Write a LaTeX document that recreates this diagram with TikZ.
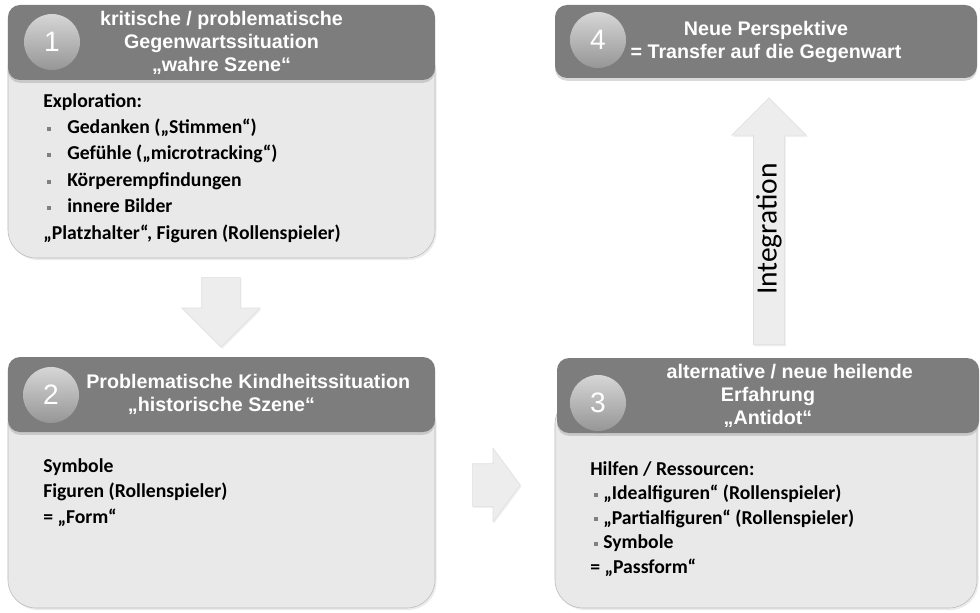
\documentclass[tikz,border=0pt]{standalone}
\usepackage{fontspec}
\setmainfont{Carlito}
\newfontfamily\arialfont{Liberation Sans}
\usetikzlibrary{shapes.arrows, shadows}
\definecolor{hdrgray}{RGB}{125,125,125}
\definecolor{bodygray}{RGB}{233,233,233}
\definecolor{edgegray}{RGB}{185,185,185}
\definecolor{arrowgray}{RGB}{237,237,237}
\definecolor{numlight}{RGB}{214,214,214}
\definecolor{numdark}{RGB}{150,150,150}
\newcommand{\bul}[1]{\makebox[#1][l]{\hspace{0.9mm}\textcolor{gray}{\rule[0.3ex]{1mm}{1mm}}}}

\begin{document}
\begin{tikzpicture}[x=0.25mm, y=-0.25mm,
		hdr/.style={fill=hdrgray, rounded corners=3mm, text=white, align=center,
			font=\arialfont\bfseries\fontsize{14}{16.4}\selectfont, inner sep=0pt,
			minimum height=18.75mm, drop shadow={opacity=0.3, shadow xshift=0pt, shadow yshift=-0.7mm}},
		bdy/.style={fill=bodygray, draw=edgegray, thin, rounded corners=7mm, inner sep=0pt,
			drop shadow={opacity=0.15, shadow xshift=0.4mm, shadow yshift=-0.5mm}},
		num/.style={circle, minimum size=14mm, inner sep=0pt, top color=numlight, bottom color=numdark,
			text=white, font=\arialfont\fontsize{20}{24}\selectfont,
			drop shadow={opacity=0.3, shadow xshift=0.3mm, shadow yshift=-0.6mm}},
		txt/.style={anchor=north west, align=left, inner sep=0pt, font=\bfseries\fontsize{14}{18.8}\selectfont},
		blockarrow/.style={single arrow, fill=arrowgray, draw=gray!25, inner xsep=0pt,
			single arrow head indent=0pt, anchor=tail,
			drop shadow={opacity=0.12, shadow xshift=0.3mm, shadow yshift=-0.4mm}}]
	
	\useasboundingbox (0,0) rectangle (980,612);
	
	%% -- box 1 --
	\node[bdy, minimum width=106.75mm, minimum height=54mm] (b1body) at (221.5,150) {};
	\node[hdr, minimum width=106.75mm] (b1hdr) at (221.5,42.5)
	{kritische / problematische\\Gegenwartssituation\\„wahre Szene“};
	\node[num] (n1) at (52,42) {1};
	\node[txt] (t1) at (43,93)
	{Exploration:\\
		\bul{6mm}Gedanken („Stimmen“)\\
		\bul{6mm}Gefühle („microtracking“)\\
		\bul{6mm}Körperempfindungen\\
		\bul{6mm}innere Bilder\\
		„Platzhalter“, Figuren (Rollenspieler)};
	
	%% -- box 2 --
	\node[bdy, minimum width=106.75mm, minimum height=53.25mm] (b2body) at (221.5,501.5) {};
	\node[hdr, minimum width=106.75mm] (b2hdr) at (221.5,394.5)
	{\hspace*{38pt}Problematische Kindheitssituation\\„historische Szene“};
	\node[num] (n2) at (51,395) {2};
	\node[txt, font=\bfseries\fontsize{14}{18.2}\selectfont] (t2) at (43,458)
	{Symbole\\Figuren (Rollenspieler)\\= „Form“};
	
	%% -- box 3 --
	\node[bdy, minimum width=105.5mm, minimum height=53mm] (b3body) at (766,502) {};
	\node[hdr, minimum width=105.5mm] (b3hdr) at (768,395.5)
	{\hspace*{31pt}alternative / neue heilende\\Erfahrung\\„Antidot“};
	\node[num] (n3) at (598,403) {3};
	\node[txt, font=\bfseries\fontsize{14}{17.5}\selectfont] (t3) at (590,461)
	{Hilfen / Ressourcen:\\
		\bul{3.25mm}„Idealfiguren“ (Rollenspieler)\\
		\bul{3.25mm}„Partialfiguren“ (Rollenspieler)\\
		\bul{3.25mm}Symbole\\
		= „Passform“};
	
	%% -- box 4 --
	\node[hdr, minimum width=105.5mm, minimum height=18.25mm] (b4hdr) at (766,41.5)
	{Neue Perspektive\\= Transfer auf die Gegenwart};
	\node[num] (n4) at (598,40) {4};
	
	%% -- block arrows --
	\node[blockarrow, rotate=-90, minimum height=17.5mm, inner ysep=4.75mm,
		single arrow head extend=5mm] (a12) at (221,277) {};
	\node[blockarrow, minimum height=12mm, inner ysep=5.25mm,
		single arrow head extend=3.9mm, single arrow tip angle=107] (a23) at (472,485) {};
	\node[blockarrow, rotate=90, minimum height=61.75mm, minimum width=18.75mm, inner ysep=0pt,
		single arrow head extend=4.6mm, font=\fontsize{21}{25}\selectfont] (a34) at (769,345) {Integration};
	
\end{tikzpicture}
\end{document}
